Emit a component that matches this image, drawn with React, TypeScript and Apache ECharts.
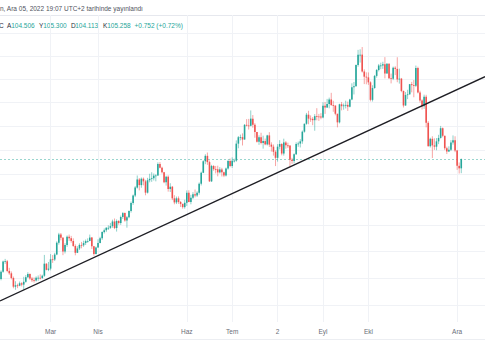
import { useEffect, useRef } from 'react';
import * as echarts from 'echarts';

// OHLC rows: [open, close, low, high]
const jan = [
  [95.94, 96.48, 95.84, 96.58], [96.48, 97.25, 96.40, 97.31], [97.25, 97.27, 97.07, 97.44], [97.27, 96.54, 96.44, 97.36],
];
const feb = [
  [96.54, 96.36, 96.25, 96.77], [96.36, 96.01, 95.91, 96.50], [96.01, 95.37, 95.25, 96.12], [95.37, 95.47, 95.14, 95.77],
  [95.47, 95.44, 95.26, 95.59], [95.44, 95.62, 95.40, 95.75], [95.62, 95.52, 95.39, 95.70], [95.52, 95.73, 95.14, 96.10],
  [95.73, 96.07, 95.66, 96.23], [96.07, 96.31, 96.02, 96.44], [96.31, 95.98, 95.87, 96.35], [95.98, 95.84, 95.71, 96.09],
  [95.84, 95.82, 95.67, 96.05], [95.82, 96.03, 95.75, 96.13], [96.03, 96.03, 95.80, 96.20], [96.03, 96.01, 95.90, 96.28],
  [96.01, 96.18, 95.94, 96.26], [96.18, 97.08, 96.10, 97.74], [97.08, 96.62, 96.58, 97.11], [96.62, 96.71, 96.52, 97.21],
];
const mar = [
  [96.71, 97.41, 96.58, 97.80], [97.41, 97.39, 97.14, 97.73], [97.39, 97.77, 97.28, 97.90], [97.77, 98.67, 97.72, 98.77],
  [98.67, 99.29, 98.52, 99.42], [99.29, 99.05, 98.85, 99.41], [99.05, 97.99, 97.72, 99.10], [97.99, 98.50, 97.85, 98.63],
  [98.50, 99.13, 98.35, 99.22], [99.13, 99.01, 98.81, 99.29], [99.01, 98.80, 98.67, 99.19], [98.80, 98.42, 98.35, 99.00],
  [98.42, 97.90, 97.71, 98.54], [97.90, 98.23, 97.88, 98.40], [98.23, 98.50, 98.11, 98.62], [98.50, 98.47, 98.24, 98.73],
  [98.47, 98.64, 98.35, 98.82], [98.64, 98.79, 98.49, 98.91], [98.79, 98.80, 98.66, 99.00], [98.80, 99.06, 98.78, 99.29],
  [99.06, 98.40, 98.19, 99.10], [98.40, 97.81, 97.68, 98.42], [97.81, 98.31, 97.78, 98.37],
];
const apr = [
  [98.31, 98.64, 98.29, 98.93], [98.64, 99.01, 98.62, 99.12], [99.01, 99.48, 98.88, 99.54], [99.48, 99.62, 99.37, 99.76],
  [99.62, 99.81, 99.48, 99.87], [99.81, 99.81, 99.64, 100.00], [99.81, 99.94, 99.73, 100.19], [99.94, 100.30, 99.81, 100.44],
  [100.30, 99.79, 99.71, 100.53], [99.79, 100.34, 99.52, 100.46], [100.34, 100.18, 100.05, 100.40], [100.18, 100.65, 100.04, 100.76],
  [100.65, 100.95, 100.50, 101.03], [100.95, 100.38, 100.28, 101.00], [100.38, 100.62, 99.82, 100.73], [100.62, 101.12, 100.55, 101.16],
  [101.12, 101.75, 100.99, 101.86], [101.75, 102.33, 101.60, 102.41], [102.33, 102.96, 102.21, 103.08], [102.96, 103.61, 102.88, 103.93],
  [103.61, 103.16, 102.74, 103.73],
];
const may = [
  [103.16, 103.67, 102.95, 103.77], [103.67, 103.46, 103.14, 103.77], [103.46, 102.56, 102.35, 103.58], [102.56, 103.55, 102.49, 103.74],
  [103.55, 103.66, 103.38, 104.07], [103.66, 103.71, 103.42, 104.19], [103.71, 103.92, 103.53, 104.09], [103.92, 103.93, 103.46, 104.03],
  [103.93, 104.85, 103.90, 104.99], [104.85, 104.56, 104.50, 105.01], [104.56, 104.19, 104.09, 104.64], [104.19, 103.39, 103.31, 104.22],
  [103.39, 103.83, 103.12, 103.91], [103.83, 102.85, 102.64, 103.94], [102.85, 103.03, 102.61, 103.31], [103.03, 102.11, 101.97, 103.09],
  [102.11, 101.79, 101.64, 102.36], [101.79, 102.11, 101.66, 102.25], [102.11, 101.82, 101.68, 102.26], [101.82, 101.67, 101.43, 101.90],
  [101.67, 101.42, 101.30, 101.70], [101.42, 101.76, 101.30, 102.00],
];
const jun = [
  [101.76, 102.55, 101.51, 102.74], [102.55, 101.83, 101.80, 102.75], [101.83, 102.16, 101.64, 102.39], [102.16, 102.43, 102.05, 102.60],
  [102.43, 102.34, 102.19, 102.81], [102.34, 102.56, 102.22, 102.67], [102.56, 103.27, 102.40, 103.37], [103.27, 104.15, 103.13, 104.24],
  [104.15, 105.08, 104.12, 105.16], [105.08, 105.52, 104.84, 105.65], [105.52, 105.01, 104.79, 105.79], [105.01, 103.46, 103.41, 105.14],
  [103.46, 104.70, 103.41, 104.79], [104.70, 104.44, 104.31, 104.76], [104.44, 104.43, 104.10, 104.70], [104.43, 104.18, 103.86, 104.72],
  [104.18, 104.42, 104.09, 104.60], [104.42, 104.20, 103.85, 104.55], [104.20, 103.93, 103.80, 104.24], [103.93, 104.49, 103.85, 104.57],
  [104.49, 105.10, 104.40, 105.20], [105.10, 104.69, 104.60, 105.30],
];
const jul = [
  [104.69, 105.13, 104.54, 105.40], [105.13, 105.13, 104.98, 105.29], [105.13, 106.52, 105.04, 106.79], [106.52, 107.05, 106.14, 107.15],
  [107.05, 107.06, 106.79, 107.27], [107.06, 106.86, 106.37, 107.37], [106.86, 108.08, 106.85, 108.15], [108.08, 108.03, 107.95, 108.56],
  [108.03, 108.00, 107.69, 108.58], [108.00, 108.60, 107.95, 109.29], [108.60, 108.08, 107.84, 108.90], [108.08, 107.48, 107.01, 108.22],
  [107.48, 106.68, 106.61, 107.49], [106.68, 107.05, 106.42, 107.21], [107.05, 106.58, 106.46, 107.42], [106.58, 106.73, 106.11, 107.18],
  [106.73, 106.46, 106.39, 106.94], [106.46, 107.20, 106.37, 107.25], [107.20, 106.44, 106.25, 107.47], [106.44, 106.27, 105.87, 106.63],
  [106.27, 105.85, 105.54, 106.45],
];
const aug = [
  [105.85, 105.36, 104.69, 105.97], [105.36, 106.27, 105.05, 106.48], [106.27, 106.49, 106.05, 106.81], [106.49, 105.71, 105.56, 106.56],
  [105.71, 106.62, 105.54, 106.93], [106.62, 106.38, 106.11, 106.73], [106.38, 106.36, 106.16, 106.60], [106.36, 105.21, 104.64, 106.37],
  [105.21, 105.10, 104.87, 105.36], [105.10, 105.65, 104.91, 105.72], [105.65, 106.50, 105.59, 106.63], [106.50, 106.53, 106.26, 106.69],
  [106.53, 106.71, 106.21, 106.89], [106.71, 107.51, 106.51, 107.61], [107.51, 108.17, 107.43, 108.19], [108.17, 108.93, 108.09, 109.08],
  [108.93, 108.60, 108.13, 109.26], [108.60, 108.58, 108.33, 108.87], [108.58, 108.47, 108.05, 108.73], [108.47, 108.81, 107.59, 108.98],
  [108.81, 108.79, 108.46, 109.48], [108.79, 108.77, 108.41, 109.00], [108.77, 108.70, 108.55, 109.06],
];
const sep = [
  [108.70, 109.68, 108.63, 109.99], [109.68, 109.54, 109.00, 110.01], [109.54, 109.83, 109.50, 110.27], [109.83, 110.22, 109.47, 110.38],
  [110.22, 109.75, 109.67, 110.79], [109.75, 109.70, 109.18, 110.11], [109.70, 109.01, 108.88, 109.72], [109.01, 108.29, 107.87, 109.01],
  [108.29, 109.81, 108.20, 109.86], [109.81, 109.65, 109.30, 110.01], [109.65, 109.72, 109.35, 109.88], [109.72, 109.76, 109.46, 110.12],
  [109.76, 109.61, 109.25, 110.04], [109.61, 110.22, 109.55, 110.28], [110.22, 111.26, 110.16, 111.61], [111.26, 111.35, 110.65, 111.72],
  [111.35, 113.19, 111.33, 113.24], [113.19, 114.11, 113.05, 114.53], [114.11, 114.11, 113.41, 114.58], [114.11, 112.63, 112.54, 114.78],
  [112.63, 112.18, 111.54, 112.82], [112.18, 112.12, 111.52, 112.56],
];
const oct = [
  [112.12, 111.69, 111.47, 112.55], [111.69, 110.19, 110.06, 111.78], [110.19, 111.20, 110.05, 111.44], [111.20, 112.25, 111.14, 112.33],
  [112.25, 112.76, 112.10, 112.85], [112.76, 113.16, 112.64, 113.29], [113.16, 113.16, 112.83, 113.40], [113.16, 113.26, 112.86, 113.48],
  [113.26, 112.45, 112.03, 113.89], [112.45, 113.31, 112.44, 113.36], [113.31, 112.04, 111.98, 113.35], [112.04, 112.00, 111.60, 112.45],
  [112.00, 112.96, 111.88, 113.06], [112.96, 112.86, 112.32, 113.09], [112.86, 111.94, 111.70, 113.88], [111.94, 112.01, 111.58, 112.88],
  [112.01, 110.95, 110.84, 112.07], [110.95, 109.71, 109.54, 110.98], [109.71, 110.60, 109.68, 110.85], [110.60, 110.66, 110.25, 111.05],
  [110.66, 111.53, 110.63, 111.55],
];
const nov = [
  [111.53, 111.45, 110.83, 111.73], [111.45, 111.40, 110.41, 111.89], [111.40, 112.93, 111.28, 113.15], [112.93, 110.82, 110.74, 113.05],
  [110.82, 110.14, 109.95, 110.97], [110.14, 109.64, 109.37, 110.23], [109.64, 110.45, 109.42, 110.63], [110.45, 108.25, 107.87, 110.62],
  [108.25, 106.31, 106.28, 108.39], [106.31, 106.92, 106.20, 107.01], [106.92, 106.38, 105.34, 107.13], [106.38, 106.27, 106.01, 106.96],
  [106.27, 106.71, 105.98, 106.98], [106.71, 106.99, 106.48, 107.25], [106.99, 107.80, 106.94, 107.99], [107.80, 107.17, 107.05, 107.86],
  [107.17, 106.14, 105.99, 107.18], [106.14, 105.88, 105.67, 106.27], [105.88, 106.01, 105.83, 106.30], [106.01, 106.62, 105.91, 106.81],
  [106.62, 106.81, 106.44, 107.20], [106.81, 105.95, 105.82, 107.13],
];
const dec = [
  [105.95, 104.71, 104.38, 106.00], [104.71, 104.506, 104.09, 104.98], [104.506, 105.258, 104.113, 105.3],
];

const firstDay = '2022-01-26';
const totalSlots = 235; // trading days incl. empty right margin

const tickDates = ['2022-03-01', '2022-04-01', '2022-06-01', '2022-07-01', '2022-08-02', '2022-09-01', '2022-10-03', '2022-12-01'];
const tickTexts = ['Mar', 'Nis', 'Haz', 'Tem', '2', 'Eyl', 'Ekl', 'Ara'];

const gridPrices = [94, 96, 98, 100, 102, 104, 106, 108, 110, 112, 114, 116];

// trend line: [bar position, price] at the two plot edges
const trendX = [-0.5, 234.5];
const trendY = [94.33, 112.18];

const headerText = 'n, Ara 05, 2022 19:07 UTC+2 tarihinde yayınlandı';
const legendLetters = ['A', 'Y', 'D', 'K'];

const FONT = '"Liberation Sans", Arial, sans-serif';

function weekdays(start: string, count: number): string[] {
  const out: string[] = [];
  const d = new Date(start + 'T00:00:00Z');
  while (out.length < count) {
    const wd = d.getUTCDay();
    if (wd !== 0 && wd !== 6) out.push(d.toISOString().slice(0, 10));
    d.setUTCDate(d.getUTCDate() + 1);
  }
  return out;
}

export default function App() {
  const ref = useRef<HTMLDivElement>(null);
  useEffect(() => {
    if (!ref.current) return;
    const chart = echarts.init(ref.current, undefined, { renderer: 'svg' });
    const rows = [...jan, ...feb, ...mar, ...apr, ...may, ...jun, ...jul, ...aug, ...sep, ...oct, ...nov, ...dec];
    const cats = weekdays(firstDay, totalSlots);
    const labelMap = new Map<string, string>();
    tickDates.forEach((d, i) => labelMap.set(d, tickTexts[i]));
    const last = rows[rows.length - 1];
    const prev = rows[rows.length - 2];
    const chg = last[1] - prev[1];
    const pct = (chg / prev[1]) * 100;
    const legendVals = [last[0], last[3], last[2], last[1]].map((v) => v.toFixed(3));
    const chgText = `${chg >= 0 ? '+' : ''}${chg.toFixed(3)} (${chg >= 0 ? '+' : ''}${pct.toFixed(2)}%)`;
    const up = '#26a69a';
    const down = '#ef5350';
    const gridColor = '#f0f2f6';

    // [index, open, close, low, high, direction]
    const candleData = rows.map((r, i) => {
      const isUp = r[1] > r[0] || (r[1] === r[0] && (i === 0 || rows[i - 1][1] <= r[1]));
      return [i, r[0], r[1], r[2], r[3], isUp ? 1 : -1];
    });

    const legendGraphics: any[] = [
      { type: 'text', x: -1, y: 25, style: { text: 'C', fontSize: 6.5, fontFamily: FONT, fill: '#2a2e39', verticalAlign: 'middle' } },
    ];
    legendLetters.forEach((l, i) => {
      legendGraphics.push({ type: 'text', x: 7 + 32 * i, y: 25, style: { text: l, fontSize: 6.5, fontFamily: FONT, fill: '#2a2e39', verticalAlign: 'middle' } });
      legendGraphics.push({ type: 'text', x: 11.2 + 32 * i, y: 25, style: { text: legendVals[i], fontSize: 6.5, fontFamily: FONT, fill: up, verticalAlign: 'middle' } });
    });
    legendGraphics.push({ type: 'text', x: 134.5, y: 25, style: { text: chgText, fontSize: 6.5, fontFamily: FONT, fill: up, verticalAlign: 'middle' } });

    chart.setOption({
      animation: false,
      backgroundColor: '#ffffff',
      grid: { left: 0, right: 0, top: 15, bottom: 38, containLabel: false },
      xAxis: [
        {
          type: 'category',
          data: cats,
          boundaryGap: true,
          axisLine: { show: false },
          axisTick: { show: false, alignWithLabel: true },
          axisLabel: {
            interval: (_i: number, v: string) => labelMap.has(v),
            formatter: (v: string) => labelMap.get(v) ?? '',
            color: '#6a6d78',
            fontSize: 6.5,
            fontFamily: FONT,
            margin: 6,
          },
          splitLine: {
            show: true,
            alignWithLabel: true,
            interval: (_i: number, v: string) => labelMap.has(v),
            lineStyle: { color: gridColor, width: 1 },
          },
        },
        { type: 'value', min: trendX[0], max: trendX[1], show: false },
      ],
      yAxis: {
        type: 'log',
        logBase: 10,
        min: 92.8,
        max: 117.66,
        axisLine: { show: false },
        axisTick: { show: false },
        axisLabel: { show: false },
        splitLine: { show: false },
      },
      series: [
        {
          type: 'custom',
          xAxisIndex: 0,
          yAxisIndex: 0,
          data: candleData,
          encode: { x: 0, y: [1, 2, 3, 4] },
          silent: true,
          clip: true,
          renderItem: (_params: any, api: any) => {
            const idx = api.value(0);
            const pO = api.coord([idx, api.value(1)]);
            const pC = api.coord([idx, api.value(2)]);
            const pL = api.coord([idx, api.value(3)]);
            const pH = api.coord([idx, api.value(4)]);
            const color = api.value(5) > 0 ? up : down;
            const x = pO[0];
            const top = Math.min(pO[1], pC[1]);
            const h = Math.max(Math.abs(pO[1] - pC[1]), 0.8);
            return {
              type: 'group',
              children: [
                { type: 'line', shape: { x1: x, y1: pH[1], x2: x, y2: pL[1] }, style: { stroke: color, lineWidth: 0.7, opacity: 0.75 } },
                { type: 'rect', shape: { x: x - 0.8, y: top, width: 1.6, height: h }, style: { fill: color } },
              ],
            };
          },
          markLine: {
            silent: true,
            z: 1,
            symbol: ['none', 'none'],
            label: { show: false },
            emphasis: { disabled: true },
            data: [
              ...gridPrices.map((p) => ({ yAxis: p, lineStyle: { color: gridColor, width: 1, type: 'solid' } })),
              { yAxis: last[1], lineStyle: { color: '#9ad6cf', width: 1, type: [2, 2] } },
            ],
          },
          z: 3,
        },
        {
          type: 'line',
          xAxisIndex: 1,
          yAxisIndex: 0,
          data: trendX.map((x, i) => [x, trendY[i]]),
          symbol: 'none',
          lineStyle: { color: '#1e1e24', width: 1.3 },
          silent: true,
          z: 10,
        },
      ],
      graphic: [
        { type: 'text', x: 0, y: 8, style: { text: headerText, fontSize: 6.5, fontFamily: FONT, fill: '#50535e', verticalAlign: 'middle' } },
        { type: 'line', shape: { x1: 0, y1: 15.5, x2: 485, y2: 15.5 }, style: { stroke: '#e6e8ee', lineWidth: 1 } },
        { type: 'line', shape: { x1: 0, y1: 339.5, x2: 485, y2: 339.5 }, style: { stroke: '#eceef2', lineWidth: 1 } },
        ...legendGraphics,
      ],
    });
    return () => chart.dispose();
  }, []);
  return <div ref={ref} style={{ position: 'absolute', left: 0, top: 0, width: 485, height: 360 }} />;
}
